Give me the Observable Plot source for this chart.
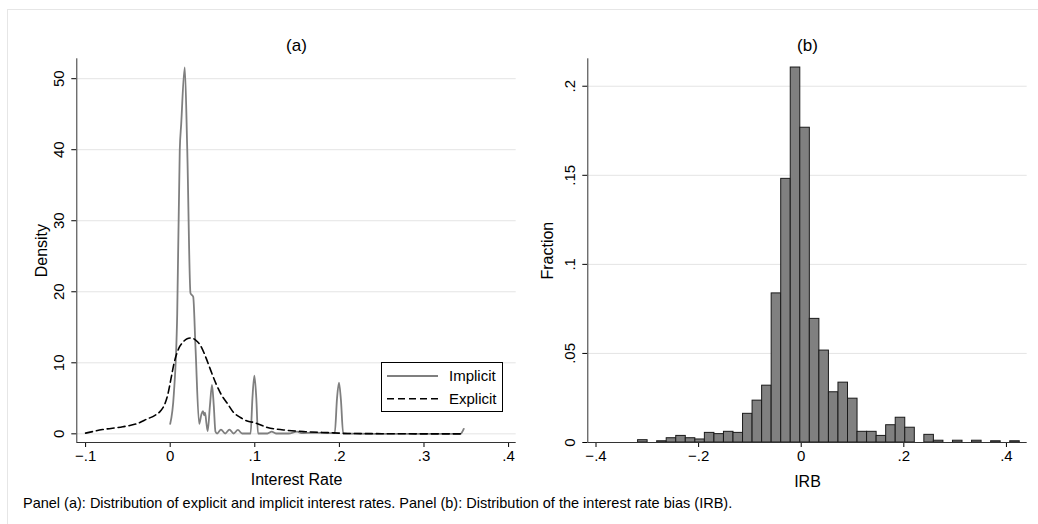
<!DOCTYPE html>
<html><head><meta charset="utf-8">
<script src="https://cdn.jsdelivr.net/npm/d3@7"></script>
<script src="https://cdn.jsdelivr.net/npm/@observablehq/plot@0.6"></script>
<style>
body{margin:0;background:#fff;font-family:"Liberation Sans",Arial,Helvetica,sans-serif;}
#wrap{position:relative;width:1038px;height:524px;overflow:hidden;background:#fff;}
#frame{position:absolute;left:7px;top:9px;width:1100px;height:600px;border:1px solid #e6e6e6;}
#row{position:absolute;left:0;top:0;display:flex;}
#legend{position:absolute;left:381px;top:362px;width:122px;height:50px;box-sizing:border-box;border:1px solid #000;background:#fff;}
#caption{position:absolute;left:23px;top:496px;font-size:14.5px;line-height:14.5px;color:#000;white-space:nowrap;}
</style></head><body>
<div id="wrap">
  <div id="frame"></div>
  <div id="row"></div>
  <div id="legend"></div>
  <div id="caption"></div>
</div>
<script>
// ---------- Panel (a): kernel densities ----------
const implicitX = [0.0000,0.0043,0.0083,0.0113,0.0130,0.0172,0.0201,0.0240,0.0272,0.0299,0.0343,0.0370,0.0388,0.0400,0.0412,0.0428,0.0443,0.0470,0.0494,0.0515,0.0535,0.0555,0.0600,0.0650,0.0700,0.0750,0.0800,0.0850,0.0950,0.0972,0.0995,0.1018,0.1038,0.1150,0.1200,0.1250,0.1400,0.1500,0.1550,0.1700,0.1850,0.1945,0.1972,0.1995,0.2018,0.2045,0.2500,0.3000,0.3430,0.3470];
const implicitY = [1.4,5.6,16.9,39.9,43.6,51.6,40.3,19.8,19.3,12.2,1.4,2.8,3.2,2.6,3.0,1.5,0.4,4.0,6.9,4.0,0.3,0.05,0.6,0.05,0.6,0.05,0.55,0.05,0.05,5.0,8.2,5.0,0.05,0.05,0.3,0.05,0.05,0.3,0.1,0.15,0.1,0.1,5.0,7.2,4.8,0.05,0.0,0.0,0.0,0.7];
const explicitX = [-0.100,-0.080,-0.056,-0.040,-0.027,-0.018,-0.0115,-0.006,-0.0027,0.0010,0.0045,0.0100,0.0150,0.0200,0.0245,0.0300,0.0360,0.0420,0.0480,0.0540,0.0600,0.0680,0.0750,0.0830,0.0910,0.0990,0.1150,0.1340,0.1600,0.1930,0.2100,0.2500,0.3000,0.3450];
const explicitY = [0.1,0.6,1.0,1.4,2.1,2.6,3.2,4.3,5.6,7.8,9.9,12.0,12.9,13.4,13.5,13.2,12.4,10.8,8.9,7.1,5.6,4.2,3.0,2.3,1.8,1.6,0.9,0.55,0.3,0.14,0.05,0.02,0.0,0.0];
const seriesNames = ["Implicit", "Explicit"];
const rateTicks = [-0.1, 0, 0.1, 0.2, 0.3, 0.4];
const rateTickLabels = ["\u2212.1", "0", ".1", ".2", ".3", ".4"];
const densityTicks = [0, 10, 20, 30, 40, 50];
const densityTickLabels = ["0", "10", "20", "30", "40", "50"];

// ---------- Panel (b): histogram of IRB ----------
const irbBinStart = -0.318;
const irbBinWidth = 0.0186;
const irbFraction = [0.0013,0,0.0007,0.0024,0.0037,0.0024,0.0017,0.0054,0.0047,0.0060,0.0054,0.0161,0.0235,0.0319,0.0837,0.1480,0.2105,0.1767,0.0694,0.0516,0.0282,0.0336,0.0246,0.0060,0.0060,0.0037,0.0097,0.0139,0.0083,0,0.0043,0.0010,0,0.0010,0,0.0010,0,0.0007,0,0.0007];
const irbTicks = [-0.4, -0.2, 0, 0.2, 0.4];
const irbTickLabels = ["\u2212.4", "\u2212.2", "0", ".2", ".4"];
const fractionTicks = [0, 0.05, 0.1, 0.15, 0.2];
const fractionTickLabels = ["0", ".05", ".1", ".15", ".2"];

const panelTitles = ["(a)", "(b)"];
const xTitles = ["Interest Rate", "IRB"];
const yTitles = ["Density", "Fraction"];
const captionText = "Panel (a): Distribution of explicit and implicit interest rates. Panel (b): Distribution of the interest rate bias (IRB).";

// ---------- build tables ----------
const implicit = implicitX.map((x, i) => ({x, y: implicitY[i]}));
const explicit = explicitX.map((x, i) => ({x, y: explicitY[i]}));
const bins = irbFraction.map((f, i) => ({x1: irbBinStart + i * irbBinWidth, x2: irbBinStart + (i + 1) * irbBinWidth, f})).filter(d => d.f > 0);

const FONT = "Liberation Sans, Arial, Helvetica, sans-serif";
const AXIS = "#333";
const GRID = "#e4e4e4";
const TICKFS = 15, TITLEFS = 17, AXTFS = 16;

const xDomA = [-0.1104, 0.409], yDomA = [-1.22, 52.8];
const plotA = Plot.plot({
  width: 519, height: 492,
  marginLeft: 76.3, marginRight: 3.3, marginTop: 58.3, marginBottom: 50,
  style: {fontFamily: FONT, fontSize: TICKFS + "px", color: "#000", background: "transparent", overflow: "visible"},
  x: {domain: xDomA, ticks: rateTicks, tickFormat: d => rateTickLabels[rateTicks.indexOf(d)], tickSize: 5, tickPadding: 3, label: null},
  y: {domain: yDomA, ticks: densityTicks, tickFormat: () => "", tickSize: 5, label: null},
  marks: [
    Plot.gridY(densityTicks, {stroke: GRID, strokeOpacity: 1, strokeWidth: 1}),
    Plot.line(implicit, {x: "x", y: "y", stroke: "#7f7f7f", strokeWidth: 1.8, curve: "monotone-x"}),
    Plot.line(explicit, {x: "x", y: "y", stroke: "#000", strokeWidth: 1.6, strokeDasharray: "7,4", curve: "monotone-x"}),
    Plot.ruleX([xDomA[0]], {stroke: AXIS, strokeWidth: 1}),
    Plot.ruleY([yDomA[0]], {stroke: AXIS, strokeWidth: 1}),
    Plot.text(densityTicks, {y: d => d, text: d => densityTickLabels[densityTicks.indexOf(d)], frameAnchor: "left", dx: -18, rotate: -90, textAnchor: "middle", lineAnchor: "middle", fill: "#000", fontSize: TICKFS}),
    Plot.text([panelTitles[0]], {frameAnchor: "top", dy: -8, lineAnchor: "bottom", fontSize: TITLEFS, fill: "#000"}),
    Plot.text([xTitles[0]], {frameAnchor: "bottom", dy: 42, lineAnchor: "bottom", fontSize: AXTFS, fill: "#000"}),
    Plot.text([yTitles[0]], {frameAnchor: "left", dx: -35, rotate: -90, textAnchor: "middle", lineAnchor: "middle", fontSize: AXTFS, fill: "#000"})
  ]
});

const xDomB = [-0.416, 0.4405], yDomB = [0, 0.2154];
const plotB = Plot.plot({
  width: 519, height: 492,
  marginLeft: 68.3, marginRight: 11.3, marginTop: 58.3, marginBottom: 50,
  style: {fontFamily: FONT, fontSize: TICKFS + "px", color: "#000", background: "transparent", overflow: "visible"},
  x: {domain: xDomB, ticks: irbTicks, tickFormat: d => irbTickLabels[irbTicks.indexOf(d)], tickSize: 5, tickPadding: 3, label: null},
  y: {domain: yDomB, ticks: fractionTicks, tickFormat: () => "", tickSize: 5, label: null},
  marks: [
    Plot.gridY(fractionTicks.filter(t => t > 0), {stroke: GRID, strokeOpacity: 1, strokeWidth: 1}),
    Plot.rectY(bins, {x1: "x1", x2: "x2", y: "f", inset: 0, fill: "#808080", stroke: "#1a1a1a", strokeWidth: 1}),
    Plot.ruleX([xDomB[0]], {stroke: AXIS, strokeWidth: 1}),
    Plot.ruleY([yDomB[0]], {stroke: AXIS, strokeWidth: 1}),
    Plot.text(fractionTicks, {y: d => d, text: d => fractionTickLabels[fractionTicks.indexOf(d)], frameAnchor: "left", dx: -18, rotate: -90, textAnchor: "middle", lineAnchor: "middle", fill: "#000", fontSize: TICKFS}),
    Plot.text([panelTitles[1]], {frameAnchor: "top", dy: -8, lineAnchor: "bottom", fontSize: TITLEFS, fill: "#000"}),
    Plot.text([xTitles[1]], {frameAnchor: "bottom", dy: 44, lineAnchor: "bottom", fontSize: AXTFS, fill: "#000"}),
    Plot.text([yTitles[1]], {frameAnchor: "left", dx: -40, rotate: -90, textAnchor: "middle", lineAnchor: "middle", fontSize: AXTFS, fill: "#000"})
  ]
});

document.getElementById("row").append(plotA, plotB);

// ---------- legend ----------
const LEGFS = 15;
const leg = d3.create("svg").attr("width", 120).attr("height", 48)
  .style("font-family", FONT).style("font-size", LEGFS + "px").style("display", "block");
const legStyles = [{stroke: "#7f7f7f", dash: null, w: 1.8}, {stroke: "#000", dash: "7,4", w: 1.6}];
seriesNames.forEach((name, i) => {
  const cy = 13 + i * 22.7;
  leg.append("line").attr("x1", 5).attr("x2", 56).attr("y1", cy).attr("y2", cy)
    .attr("stroke", legStyles[i].stroke).attr("stroke-width", legStyles[i].w)
    .attr("stroke-dasharray", legStyles[i].dash);
  leg.append("text").attr("x", 67).attr("y", cy + 5.3).attr("fill", "#000").text(name);
});
document.getElementById("legend").append(leg.node());

document.getElementById("caption").textContent = captionText;
</script>
</body></html>
